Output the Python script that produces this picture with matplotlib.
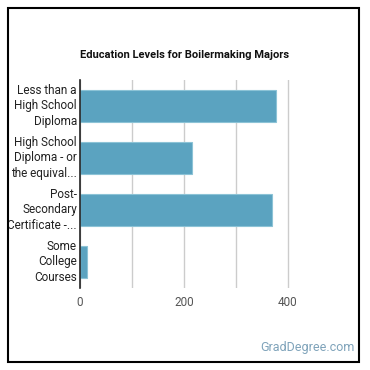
import matplotlib.pyplot as plt
from matplotlib.patches import Rectangle

categories = ['Less than a\nHigh School\nDiploma',
              'High School\nDiploma - or\nthe equival...',
              'Post-\nSecondary\nCertificate -...',
              'Some\nCollege\nCourses']
values = [377, 215, 369, 14]

plt.rcParams['font.family'] = ['Roboto', 'DejaVu Sans']

fig = plt.figure(figsize=(3.7, 3.7), dpi=100)
# outer frame
fig.patches.append(Rectangle((8 / 370, 1 - 362 / 370), 351 / 370, 354 / 370,
                             transform=fig.transFigure, fill=False,
                             edgecolor='black', linewidth=1.5))

ax = fig.add_axes([80 / 370, 1 - 288 / 370, 260 / 370, 208 / 370])
y = list(range(len(categories)))
ax.barh(y, values, height=0.63, color='#5ba3c0', edgecolor='#8cc3d6', linewidth=0.8, zorder=2)
ax.set_ylim(3.5, -0.5)
ax.set_xlim(0, 500)
ax.set_yticks(y)
ax.set_yticklabels([])
# category labels, right-aligned lines
for yi, lab in zip(y, categories):
    ax.text(-0.012, yi, lab, transform=ax.get_yaxis_transform(), ha='right', va='center',
            multialignment='right', fontsize=8.5, color='#222222', linespacing=1.25)
ax.set_xticks([0, 100, 200, 300, 400])
ax.set_xticklabels(['0', '', '200', '', '400'], fontsize=8.5, color='#555555')
ax.tick_params(length=0, pad=6)
ax.grid(axis='x', color='#cccccc', linewidth=1, zorder=0)
for s in ['top', 'right', 'bottom']:
    ax.spines[s].set_visible(False)
ax.spines['left'].set_color('#222222')
ax.spines['left'].set_linewidth(1.2)
ax.spines['left'].set_zorder(3)

fig.text(0.5, 1 - 55 / 370, 'Education Levels for Boilermaking Majors',
         ha='center', va='center', fontsize=8, fontweight='bold', color='#111111')
fig.text(355 / 370, 1 - 348 / 370, 'GradDegree.com', ha='right', va='center',
         fontsize=9, color='#7fa3ba')

fig.savefig('out.png', dpi=100)
